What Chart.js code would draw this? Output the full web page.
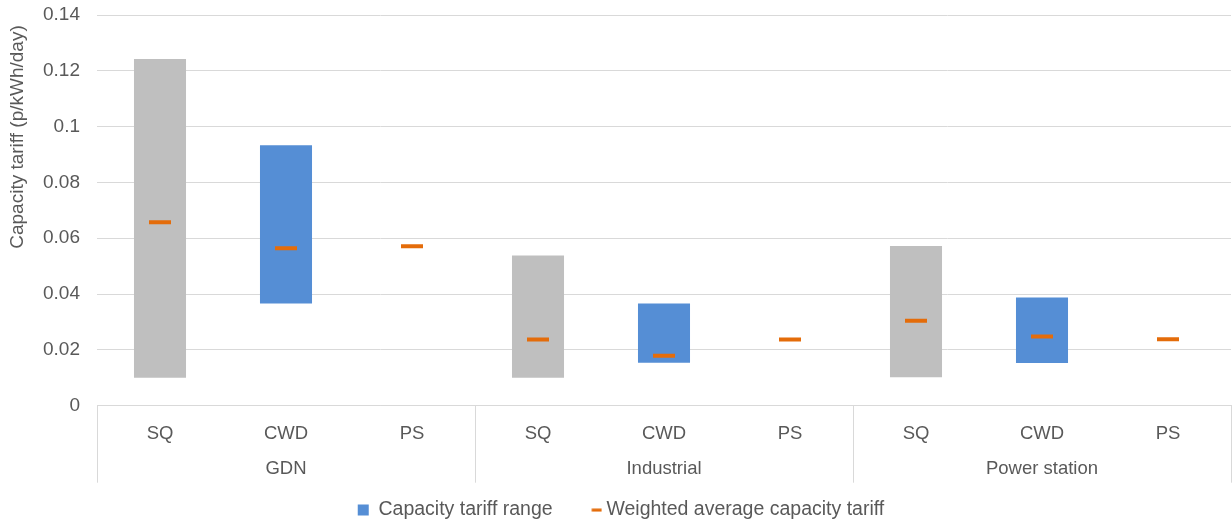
<!DOCTYPE html>
<html>
<head>
<meta charset="utf-8">
<script src="https://cdn.jsdelivr.net/npm/chart.js@4/dist/chart.umd.min.js"></script>
<style>
  html, body { margin: 0; padding: 0; background: #ffffff; }
  #wrap { width: 1232px; height: 522px; position: relative; }
</style>
</head>
<body>
<div id="wrap"><canvas id="chart"></canvas></div>
<script>
// Scenario labels under each bar, and the customer groups they belong to
const categories = ['SQ', 'CWD', 'PS', 'SQ', 'CWD', 'PS', 'SQ', 'CWD', 'PS'];
const groups = ['GDN', 'Industrial', 'Power station'];

// Capacity tariff range (p/kWh/day): lowest and highest value per scenario
const rangeLow  = [0.0100, 0.0366, null, 0.0100, 0.0154, null, 0.0102, 0.0153, null];
const rangeHigh = [0.1242, 0.0933, null, 0.0538, 0.0366, null, 0.0572, 0.0388, null];

// Weighted average capacity tariff (p/kWh/day)
const weightedAvg = [0.0657, 0.0564, 0.0571, 0.0237, 0.0179, 0.0237, 0.0304, 0.0248, 0.0238];

// Value axis ticks and title
const yTicks = [0, 0.02, 0.04, 0.06, 0.08, 0.1, 0.12, 0.14];
const yTitle = 'Capacity tariff (p/kWh/day)';

const TEXT = '#595959';
const GRID = '#D9D9D9';
const ORANGE = '#E46C0A';
const FONT = '"Liberation Sans", Arial, sans-serif';

// Floating bars: status quo ranges in grey, CWD ranges in blue
const rangeFor = (label) => categories.map((c, i) =>
  (c === label && rangeLow[i] !== null) ? [rangeLow[i], rangeHigh[i]] : null);

// Short dash used as the legend symbol of the average marker
const legendDash = document.createElement('canvas');
legendDash.width = 22;
legendDash.height = 4;
(() => {
  const c = legendDash.getContext('2d');
  c.fillStyle = ORANGE;
  c.fillRect(11.5, 0.5, 10, 3);
})();

// Draws the group captions under the scenario labels and the value axis title
const axisCaptions = {
  id: 'axisCaptions',
  afterDraw(chart) {
    const x = chart.scales.x;
    const ctx = chart.ctx;
    ctx.save();
    ctx.fillStyle = TEXT;
    ctx.font = '18.5px ' + FONT;
    ctx.textAlign = 'center';
    ctx.textBaseline = 'middle';
    groups.forEach((g, i) => {
      ctx.fillText(g, x.getPixelForValue(i * 3 + 1), 469);
    });
    ctx.font = '19px ' + FONT;
    ctx.translate(18, 137);
    ctx.rotate(-Math.PI / 2);
    ctx.fillText(yTitle, 0, 0);
    ctx.restore();
  }
};

new Chart(document.getElementById('chart'), {
  data: {
    labels: categories,
    datasets: [
      {
        type: 'bar',
        label: 'SQ range',
        data: rangeFor('SQ'),
        backgroundColor: '#BFBFBF',
        grouped: false,
        order: 1,
        pointStyle: 'rect'
      },
      {
        type: 'bar',
        label: 'Capacity tariff range',
        data: rangeFor('CWD'),
        backgroundColor: '#558ED5',
        grouped: false,
        order: 1,
        pointStyle: 'rect'
      },
      {
        type: 'line',
        label: 'Weighted average capacity tariff',
        data: weightedAvg,
        showLine: false,
        pointStyle: 'line',
        pointRadius: 11,
        pointHoverRadius: 11,
        pointBorderWidth: 4,
        pointHoverBorderWidth: 4,
        borderColor: ORANGE,
        pointBorderColor: ORANGE,
        backgroundColor: ORANGE,
        order: 0
      }
    ]
  },
  options: {
    responsive: true,
    maintainAspectRatio: false,
    animation: false,
    events: [],
    layout: {
      autoPadding: false,
      padding: { top: 15, right: 1, left: 11, bottom: -7.85 }
    },
    datasets: {
      bar: { barPercentage: 0.413, categoryPercentage: 1 }
    },
    scales: {
      x: {
        type: 'category',
        offset: true,
        border: { display: true, color: GRID, width: 1 },
        grid: {
          offset: true,
          drawOnChartArea: false,
          drawTicks: true,
          tickLength: 77,
          lineWidth: 1,
          color: (ctx) => (ctx.index === undefined || ctx.index % 3 === 0) ? GRID : 'rgba(0,0,0,0)'
        },
        ticks: {
          color: TEXT,
          font: { family: FONT, size: 18.5 },
          padding: -60,
          maxRotation: 0,
          autoSkip: false
        },
        afterFit: (scale) => { scale.height = 61.65; }
      },
      y: {
        min: 0,
        max: 0.14,
        afterBuildTicks: (scale) => { scale.ticks = yTicks.map(v => ({ value: v })); },
        border: { display: false },
        grid: {
          color: GRID,
          lineWidth: 1,
          drawTicks: true,
          tickLength: 17,
          tickColor: 'rgba(0,0,0,0)'
        },
        ticks: {
          color: TEXT,
          font: { family: FONT, size: 19 },
          padding: 0,
          callback: (v) => String(+v.toFixed(2))
        },
        afterFit: (scale) => { scale.width = 86; }
      }
    },
    plugins: {
      legend: {
        position: 'bottom',
        labels: {
          usePointStyle: true,
          boxWidth: 11,
          boxHeight: 11,
          padding: 33,
          color: TEXT,
          font: { family: FONT, size: 19.5 },
          generateLabels: (chart) => {
            const items = Chart.defaults.plugins.legend.labels.generateLabels(chart);
            items.forEach(it => {
              if (it.datasetIndex === 2) { it.pointStyle = legendDash; }
            });
            return items;
          },
          filter: (item) => item.text !== 'SQ range',
          sort: (a, b) => a.datasetIndex - b.datasetIndex
        }
      },
      tooltip: { enabled: false }
    }
  },
  plugins: [axisCaptions]
});
</script>
</body>
</html>
